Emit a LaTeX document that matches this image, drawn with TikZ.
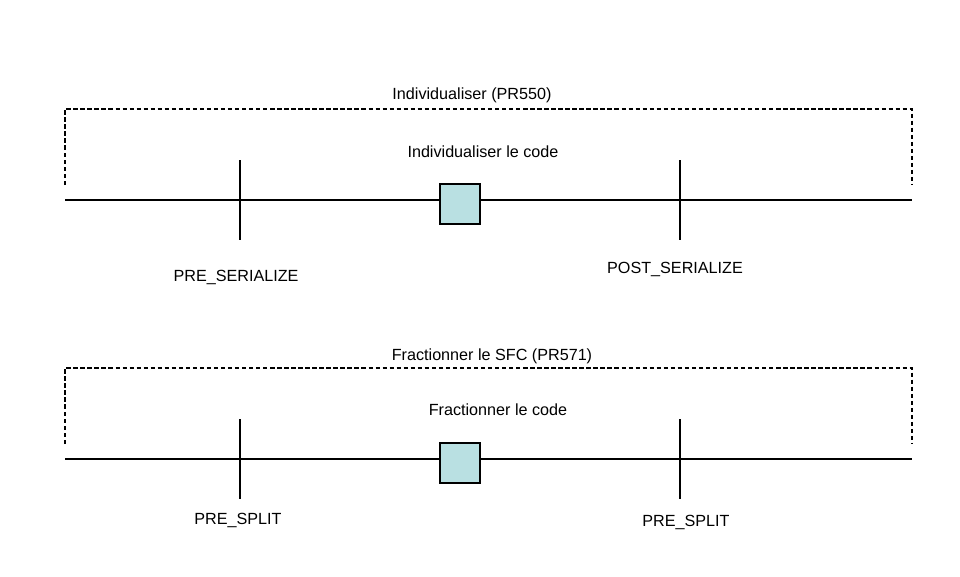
\documentclass[tikz,border=0pt]{standalone}
\usepackage{fontspec}
\setmainfont{Liberation Sans}
\usetikzlibrary{positioning}
\definecolor{boxfill}{RGB}{185,224,226}
\tikzset{
  lbl/.style={font=\fontsize{9.2}{11}\selectfont, inner sep=0pt},
  stage/.style={draw, fill=boxfill, minimum size=0.8cm, inner sep=0pt},
  frame/.style={dashed, dash pattern=on 2.5pt off 1.5pt}
}
\begin{document}
\begin{tikzpicture}[x=0.02cm, y=-0.02cm, line width=0.6pt]
            \useasboundingbox (0,0) rectangle (960,576);

            %Nodes (Individualiser)
            \node[lbl] at (472,95) (titleA) {Individualiser (PR550)};
            \node[lbl] at (483,152) (textA) {Individualiser le code};
            \node[stage] at (460,204) (boxA) {};
            \node[lbl] at (236,277) (preA) {PRE\_SERIALIZE};
            \node[lbl] at (675,269) (postA) {POST\_SERIALIZE};
            \coordinate (lA) at (65,200);
            \coordinate (rA) at (912,200);
            \coordinate (fA1) at (65,185);
            \coordinate (fA2) at (912,185);
            \coordinate (tA1) at (240,160);
            \coordinate (tA2) at (240,240);
            \coordinate (tA3) at (680,160);
            \coordinate (tA4) at (680,240);

            %Lines (Individualiser)
            \draw[frame] (fA1) -- (65,109) -- (912,109) -- (fA2);
            \draw (lA) -- (boxA.west |- lA);
            \draw (boxA.east |- rA) -- (rA);
            \draw (tA1) -- (tA2);
            \draw (tA3) -- (tA4);

            %Nodes (Fractionner)
            \node[lbl] at (492,356) (titleB) {Fractionner le SFC (PR571)};
            \node[lbl] at (498,410) (textB) {Fractionner le code};
            \node[stage] at (460,463) (boxB) {};
            \node[lbl] at (238,520) (preB) {PRE\_SPLIT};
            \node[lbl] at (686,522) (postB) {PRE\_SPLIT};
            \coordinate (lB) at (65,459);
            \coordinate (rB) at (912,459);
            \coordinate (fB1) at (65,444);
            \coordinate (fB2) at (912,444);
            \coordinate (tB1) at (240,419);
            \coordinate (tB2) at (240,499);
            \coordinate (tB3) at (680,419);
            \coordinate (tB4) at (680,499);

            %Lines (Fractionner)
            \draw[frame] (fB1) -- (65,368) -- (912,368) -- (fB2);
            \draw (lB) -- (boxB.west |- lB);
            \draw (boxB.east |- rB) -- (rB);
            \draw (tB1) -- (tB2);
            \draw (tB3) -- (tB4);
        \end{tikzpicture}
\end{document}
